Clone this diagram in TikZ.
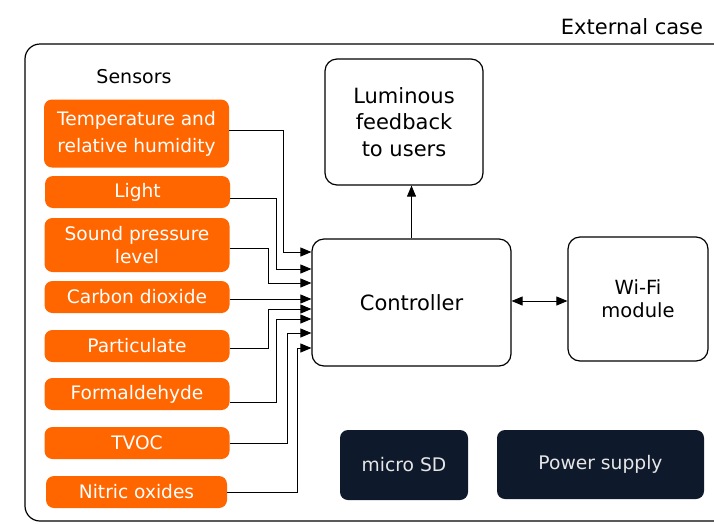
\documentclass[tikz,border=0pt]{standalone}
\usepackage{fontspec}
\setmainfont{DejaVu Sans}
\usetikzlibrary{arrows.meta}
\definecolor{sensorcol}{HTML}{FF6600}
\definecolor{darkbox}{HTML}{0F192C}
\definecolor{lighttext}{HTML}{E6E6E6}

\begin{document}
\begin{tikzpicture}[x=1pt,y=-1pt,
  sensor/.style={fill=sensorcol, text=white, rounded corners=8pt, minimum width=185pt, inner sep=0pt, align=center, font=\fontsize{18.6}{23}\selectfont},
  block/.style={draw, line width=1.2pt, rounded corners=12pt, align=center, inner sep=0pt, font=\fontsize{21}{26.5}\selectfont},
  dark/.style={fill=darkbox, text=lighttext, rounded corners=8pt, inner sep=0pt, font=\fontsize{18.7}{22}\selectfont},
  tip/.style={Triangle[length=11pt,width=9pt]},
  wire/.style={line width=0.8pt, -{Triangle[length=11pt,width=9pt]}}]
\useasboundingbox (0,0) rectangle (714,523);

\draw[line width=1.2pt, rounded corners=15pt] (714,44) -- (25,44) -- (25,521) -- (714,521);
\node[font=\fontsize{21}{24}\selectfont] (ext) at (632,27) {External case};
\node[font=\fontsize{19}{22}\selectfont] (sens) at (134,77) {Sensors};

\node[sensor, minimum height=68pt] (temp) at (136.5,133.5) {Temperature and\\[4pt]relative humidity};
\node[sensor, minimum height=32pt] (light) at (137.5,192) {Light};
\node[sensor, minimum height=54pt] (sound) at (137,245) {Sound pressure\\level};
\node[sensor, minimum height=32pt] (co2) at (137,297) {Carbon dioxide};
\node[sensor, minimum height=32pt] (part) at (137,346) {Particulate};
\node[sensor, minimum height=32pt] (form) at (137,394) {Formaldehyde};
\node[sensor, minimum height=32pt] (tvoc) at (137,443) {TVOC};
\node[sensor, minimum height=32pt, minimum width=181pt] (nitric) at (136.5,492) {Nitric oxides};

\node[block, minimum width=158pt, minimum height=126pt] (lum) at (404,122) {Luminous\\feedback\\to users};
\node[block, minimum width=199pt, minimum height=127pt] (ctrl) at (411.5,302.5) {Controller};
\node[block, minimum width=140pt, minimum height=124pt, font=\fontsize{19.5}{23}\selectfont] (wifi) at (638,299) {Wi-Fi\\module};

\node[dark, minimum width=128pt, minimum height=70pt] (sd) at (404,465) {micro SD};
\node[dark, minimum width=207pt, minimum height=69pt] (power) at (600.5,464.5) {Power supply};

\draw[wire] (ctrl.north) -- (ctrl.north |- lum.south);
\draw[wire, {Triangle[length=11pt,width=9pt]}-{Triangle[length=11pt,width=9pt]}] (ctrl.east |- 0,301) -- (wifi.west |- 0,301);

\draw[wire] (temp.east |- 0,130) -| (283,252) -- (ctrl.west |- 0,252);
\draw[wire] (light.east |- 0,198) -| (276,269) -- (ctrl.west |- 0,269);
\draw[wire] (sound.east |- 0,248) -| (268,283) -- (ctrl.west |- 0,283);
\draw[wire] (co2.east |- 0,299) -- (ctrl.west |- 0,299);
\draw[wire] (part.east |- 0,348) -| (268,309) -- (ctrl.west |- 0,309);
\draw[wire] (form.east |- 0,402) -| (276,319) -- (ctrl.west |- 0,319);
\draw[wire] (tvoc.east |- 0,443) -| (287,333) -- (ctrl.west |- 0,333);
\draw[wire] (nitric.east |- 0,492) -| (297,348) -- (ctrl.west |- 0,348);
\end{tikzpicture}
\end{document}
